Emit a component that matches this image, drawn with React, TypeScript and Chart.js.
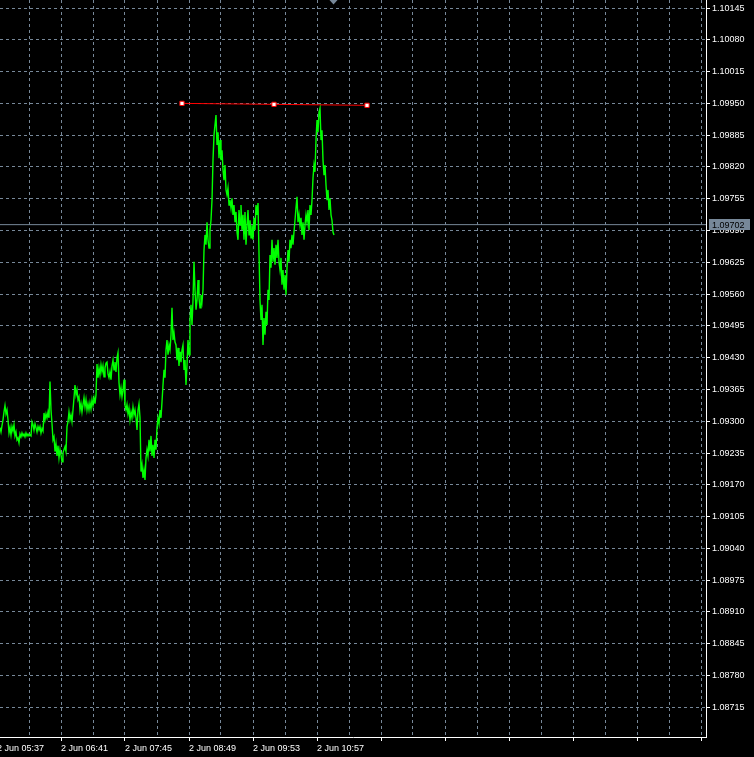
import React, { useEffect, useRef } from 'react';
import { Chart, registerables } from 'chart.js';

Chart.register(...registerables);

// Minute close prices (one per minute, starting 2 Jun 05:40)
const closes: number[] = [
  1.09287, 1.09278, 1.09291, 1.09303, 1.09319, 1.09332, 1.09315, 1.09323, 1.09303, 1.09276,
  1.09287, 1.09272, 1.09289, 1.09280, 1.09293, 1.09270, 1.09278, 1.09262, 1.09266, 1.09256,
  1.09274, 1.09268, 1.09276, 1.09270, 1.09274, 1.09268, 1.09276, 1.09270, 1.09274, 1.09270,
  1.09272, 1.09270, 1.09299, 1.09293, 1.09282, 1.09295, 1.09287, 1.09278, 1.09289, 1.09282,
  1.09289, 1.09276, 1.09285, 1.09280, 1.09317, 1.09303, 1.09315, 1.09307, 1.09319, 1.09307,
  1.09381, 1.09323, 1.09295, 1.09262, 1.09268, 1.09238, 1.09254, 1.09229, 1.09250, 1.09225,
  1.09242, 1.09231, 1.09217, 1.09236, 1.09242, 1.09248, 1.09238, 1.09289, 1.09299, 1.09319,
  1.09303, 1.09313, 1.09299, 1.09323, 1.09348, 1.09374, 1.09354, 1.09364, 1.09344, 1.09350,
  1.09323, 1.09336, 1.09319, 1.09334, 1.09348, 1.09329, 1.09344, 1.09323, 1.09336, 1.09323,
  1.09338, 1.09325, 1.09344, 1.09332, 1.09348, 1.09336, 1.09354, 1.09417, 1.09389, 1.09409,
  1.09395, 1.09415, 1.09401, 1.09413, 1.09391, 1.09409, 1.09419, 1.09421, 1.09397, 1.09389,
  1.09401, 1.09385, 1.09413, 1.09425, 1.09405, 1.09421, 1.09401, 1.09430, 1.09440, 1.09379,
  1.09354, 1.09368, 1.09350, 1.09364, 1.09385, 1.09332, 1.09323, 1.09334, 1.09315, 1.09327,
  1.09303, 1.09319, 1.09307, 1.09329, 1.09313, 1.09323, 1.09307, 1.09282, 1.09323, 1.09336,
  1.09307, 1.09197, 1.09211, 1.09184, 1.09201, 1.09180, 1.09225, 1.09242, 1.09229, 1.09262,
  1.09238, 1.09270, 1.09229, 1.09252, 1.09225, 1.09262, 1.09242, 1.09287, 1.09307, 1.09295,
  1.09323, 1.09307, 1.09340, 1.09374, 1.09405, 1.09389, 1.09446, 1.09466, 1.09436, 1.09456,
  1.09446, 1.09477, 1.09532, 1.09466, 1.09481, 1.09462, 1.09456, 1.09425, 1.09450, 1.09413,
  1.09442, 1.09421, 1.09446, 1.09456, 1.09405, 1.09425, 1.09374, 1.09415, 1.09466, 1.09436,
  1.09507, 1.09538, 1.09497, 1.09548, 1.09626, 1.09569, 1.09528, 1.09548, 1.09589, 1.09552,
  1.09532, 1.09558, 1.09544, 1.09569, 1.09650, 1.09681, 1.09661, 1.09707, 1.09671, 1.09654,
  1.09691, 1.09711, 1.09752, 1.09834, 1.09885, 1.09906, 1.09926, 1.09865, 1.09891, 1.09838,
  1.09875, 1.09834, 1.09854, 1.09814, 1.09793, 1.09824, 1.09773, 1.09763, 1.09777, 1.09742,
  1.09752, 1.09736, 1.09756, 1.09722, 1.09742, 1.09707, 1.09728, 1.09687, 1.09671, 1.09732,
  1.09701, 1.09742, 1.09691, 1.09722, 1.09671, 1.09728, 1.09661, 1.09701, 1.09732, 1.09681,
  1.09711, 1.09675, 1.09701, 1.09671, 1.09716, 1.09691, 1.09742, 1.09722, 1.09746, 1.09644,
  1.09548, 1.09507, 1.09538, 1.09456, 1.09511, 1.09477, 1.09524, 1.09497, 1.09569, 1.09548,
  1.09640, 1.09614, 1.09671, 1.09626, 1.09654, 1.09620, 1.09661, 1.09634, 1.09671, 1.09626,
  1.09609, 1.09634, 1.09579, 1.09609, 1.09569, 1.09599, 1.09558, 1.09614, 1.09650, 1.09626,
  1.09671, 1.09654, 1.09681, 1.09661, 1.09687, 1.09711, 1.09736, 1.09759, 1.09707, 1.09722,
  1.09701, 1.09716, 1.09681, 1.09707, 1.09671, 1.09701, 1.09722, 1.09707, 1.09732, 1.09691,
  1.09742, 1.09722, 1.09752, 1.09797, 1.09824, 1.09810, 1.09875, 1.09916, 1.09891, 1.09932,
  1.09940, 1.09875, 1.09895, 1.09834, 1.09803, 1.09824, 1.09783, 1.09752, 1.09773, 1.09732,
  1.09756, 1.09722, 1.09711, 1.09687, 1.09681,
];

// Vertical grid positions (minutes from 05:40)
const gridMinutes: number[] = [
  -3, 29, 61, 93, 125, 157, 189, 221, 253, 285, 317, 349,
  381, 413, 445, 477, 509, 541, 573, 605, 637, 669, 701,
];
const timeLabels: string[] = [
  '2 Jun 05:37', '2 Jun 06:41', '2 Jun 07:45', '2 Jun 08:49', '2 Jun 09:53', '2 Jun 10:57',
];
const priceTicks: number[] = [
  1.10145, 1.10080, 1.10015, 1.09950, 1.09885, 1.09820, 1.09755, 1.09690,
  1.09625, 1.09560, 1.09495, 1.09430, 1.09365, 1.09300, 1.09235, 1.09170,
  1.09105, 1.09040, 1.08975, 1.08910, 1.08845, 1.08780, 1.08715,
];
const trendMinutes: number[] = [182, 274, 367];
const trendPrices: number[] = [1.09950, 1.09948, 1.09946];
const bidPrice = 1.09702;
const shiftMarkerMinute = 333;

const xMin = 0;
const xMax = 706;
const yMin = 1.086543;
const yMax = 1.101614;

const FONT = "'Liberation Sans', Arial, sans-serif";
const GRID = '#778899';

export default function App() {
  const ref = useRef<HTMLCanvasElement>(null);

  useEffect(() => {
    const canvas = ref.current;
    if (!canvas) return;

    const bgPlugin = {
      id: 'bg',
      beforeDraw(chart: any) {
        const c = chart.ctx;
        c.save();
        c.fillStyle = '#000';
        c.fillRect(0, 0, chart.width, chart.height);
        c.restore();
      },
    };

    const overlay = {
      id: 'overlay',
      afterDraw(chart: any) {
        const { ctx, scales } = chart;
        const xs = scales.x;
        const ys = scales.y;
        ctx.save();
        // chart shift marker
        const sx = Math.round(xs.getPixelForValue(shiftMarkerMinute)) + 0.5;
        ctx.fillStyle = GRID;
        ctx.beginPath();
        ctx.moveTo(sx - 4, 0);
        ctx.lineTo(sx + 4, 0);
        ctx.lineTo(sx, 4.5);
        ctx.closePath();
        ctx.fill();
        // bid price label
        const by = ys.getPixelForValue(bidPrice);
        const bx = chart.chartArea.right + 3;
        ctx.fillStyle = GRID;
        ctx.fillRect(bx, Math.round(by) - 6, 41, 11);
        ctx.fillStyle = '#000';
        ctx.font = `9px ${FONT}`;
        ctx.textBaseline = 'middle';
        ctx.textAlign = 'left';
        ctx.fillText(bidPrice.toFixed(5), bx + 3, by + 0.5);
        ctx.restore();
      },
    };

    const chart = new Chart(canvas, {
      type: 'line',
      data: {
        datasets: [
          {
            label: 'trend',
            data: trendMinutes.map((m, i) => ({ x: m, y: trendPrices[i] })),
            borderColor: '#ff0000',
            borderWidth: 1,
            pointStyle: 'rect',
            pointRadius: 3,
            pointBackgroundColor: '#ffffff',
            pointBorderColor: '#ff0000',
            pointBorderWidth: 1,
            tension: 0,
          },
          {
            label: 'close',
            data: closes.map((c, i) => ({ x: i, y: c })),
            borderColor: '#00ff00',
            borderWidth: 1.4,
            pointRadius: 0,
            tension: 0,
          },
          {
            label: 'bid',
            data: [
              { x: xMin, y: bidPrice },
              { x: xMax, y: bidPrice },
            ],
            borderColor: GRID,
            borderWidth: 1,
            pointRadius: 0,
            tension: 0,
          },
        ],
      },
      options: {
        animation: false,
        responsive: false,
        devicePixelRatio: 1,
        events: [],
        layout: { padding: 0, autoPadding: false },
        plugins: {
          legend: { display: false },
          tooltip: { enabled: false },
        },
        scales: {
          x: {
            type: 'linear',
            position: 'bottom',
            min: xMin,
            max: xMax,
            afterBuildTicks: (s: any) => {
              s.ticks = gridMinutes.map((v) => ({ value: v }));
            },
            afterFit: (s: any) => {
              s.height = 20;
              s.paddingLeft = 0;
              s.paddingRight = 0;
              s.paddingTop = 0;
              s.paddingBottom = 0;
            },
            grid: {
              color: GRID,
              lineWidth: 1,
              drawTicks: true,
              tickLength: 4,
              tickWidth: 1,
              tickColor: (ctx: any) => (ctx.index % 2 === 0 ? '#ffffff' : 'rgba(0,0,0,0)'),
              tickBorderDash: [],
              borderDash: [3, 3],
            } as any,
            border: { display: true, color: '#ffffff', width: 1, dash: [3, 3] },
            ticks: {
              color: '#ffffff',
              font: { family: FONT, size: 9 },
              align: 'start',
              padding: 2,
              autoSkip: false,
              maxRotation: 0,
              minRotation: 0,
              callback: (_v: any, index: number) =>
                index % 2 === 0 ? timeLabels[index / 2] ?? '' : '',
            },
          },
          y: {
            type: 'linear',
            position: 'right',
            min: yMin,
            max: yMax,
            afterBuildTicks: (s: any) => {
              s.ticks = priceTicks.map((v) => ({ value: v }));
            },
            afterFit: (s: any) => {
              s.width = 48;
              s.paddingLeft = 0;
              s.paddingRight = 0;
              s.paddingTop = 0;
              s.paddingBottom = 0;
            },
            grid: {
              color: GRID,
              lineWidth: 1,
              drawTicks: true,
              tickLength: 4,
              tickWidth: 1,
              tickColor: '#ffffff',
              tickBorderDash: [],
              borderDash: [3, 3],
            } as any,
            border: { display: true, color: '#ffffff', width: 1, dash: [3, 3] },
            ticks: {
              color: '#ffffff',
              font: { family: FONT, size: 9 },
              padding: 2,
              autoSkip: false,
              callback: (v: any) => Number(v).toFixed(5),
            },
          },
        },
      },
      plugins: [bgPlugin, overlay],
    } as any);

    return () => chart.destroy();
  }, []);

  return (
    <div style={{ position: 'fixed', left: 0, top: 0, width: 754, height: 757, background: '#000' }}>
      <canvas ref={ref} width={754} height={757} style={{ display: 'block', width: 754, height: 757 }} />
    </div>
  );
}
